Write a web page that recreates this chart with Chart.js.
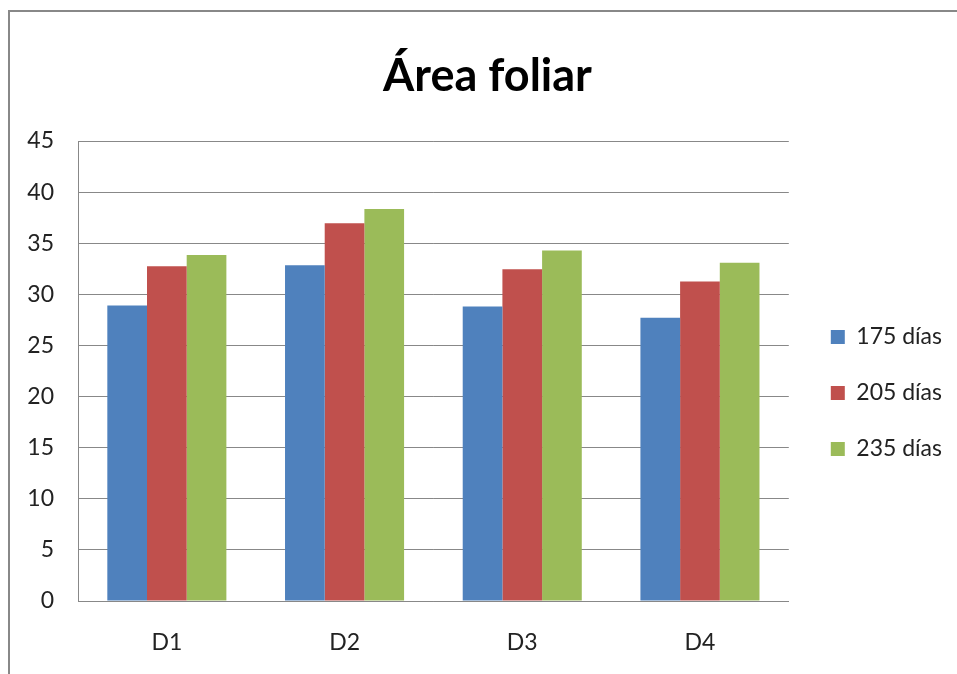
<!DOCTYPE html>
<html>
<head>
<meta charset="utf-8">
<script src="https://cdn.jsdelivr.net/npm/chart.js@4.4.1/dist/chart.umd.min.js"></script>
<style>
  body { margin: 0; background: #fff; }
  #wrap { position: relative; width: 957px; height: 674px; overflow: hidden; }
  #frame { position: absolute; left: 8px; top: 10px; width: 1000px; height: 700px;
           border-left: 2px solid #888; border-top: 2px solid #888; }
  canvas { position: absolute; left: 0; top: 0; }
</style>
</head>
<body>
<div id="wrap">
  <div id="frame"></div>
  <canvas id="grafico" width="957" height="674"></canvas>
</div>
<script>
const categorias = ['D1', 'D2', 'D3', 'D4'];
const dias175 = [28.9, 32.85, 28.8, 27.7];
const dias205 = [32.75, 36.95, 32.45, 31.25];
const dias235 = [33.85, 38.35, 34.3, 33.1];

const fonte = 'Lato, "Open Sans", sans-serif';

// empurra legenda e título para a posição do original
const ajustarPosicoes = {
    id: 'ajustarPosicoes',
    afterLayout(chart) {
        const lg = chart.legend;
        lg.left += 9;
        lg.right += 9;
        lg.top += 56;
        lg.bottom += 56;
        const tt = chart.titleBlock;
        tt.left += 16;
        tt.right += 16;
    }
};

let ctx = document.getElementById('grafico').getContext('2d');

let chart = new Chart(ctx, {
    type: 'bar',
    data: {
        labels: categorias,
        datasets: [
            { label: '175 días', data: dias175, backgroundColor: '#4F81BD' },
            { label: '205 días', data: dias205, backgroundColor: '#C0504D' },
            { label: '235 días', data: dias235, backgroundColor: '#9BBB59' }
        ]
    },
    options: {
        responsive: false,
        animation: false,
        layout: { padding: { left: 0, right: 14, top: 0, bottom: 0 } },
        datasets: { bar: { categoryPercentage: 0.67, barPercentage: 1.0 } },
        scales: {
            x: {
                grid: { display: false, drawTicks: false },
                border: { color: '#888', width: 1 },
                ticks: { color: '#222', font: { family: fonte, size: 23 }, padding: 28 },
                afterFit(scale) { scale.height = 73; }
            },
            y: {
                min: 0, max: 45,
                ticks: { stepSize: 5, color: '#222', font: { family: fonte, size: 23 }, padding: 24 },
                grid: { color: '#888', drawTicks: false },
                border: { color: '#888', width: 1 },
                afterFit(scale) { scale.width = 78; }
            }
        },
        plugins: {
            title: {
                display: true,
                text: 'Área foliar',
                color: '#000',
                font: { family: fonte, size: 45, weight: 'bold' },
                padding: { top: 49, bottom: 38 }
            },
            legend: {
                position: 'right',
                labels: {
                    boxWidth: 14, boxHeight: 14,
                    padding: 33,
                    color: '#222',
                    font: { family: fonte, size: 23 }
                }
            },
            tooltip: { enabled: false }
        }
    },
    plugins: [ajustarPosicoes]
});
</script>
</body>
</html>
